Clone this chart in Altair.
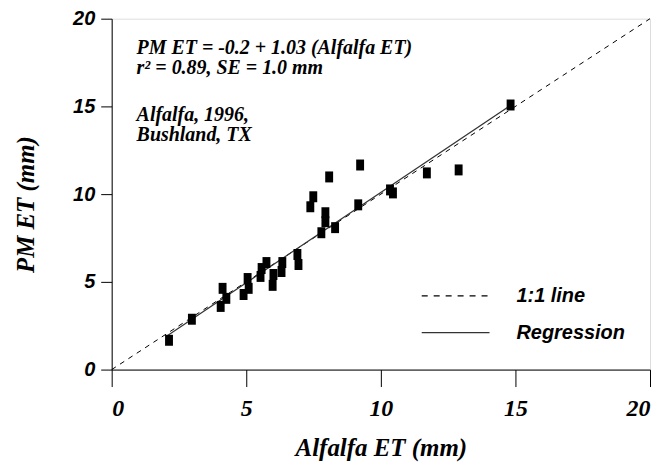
import altair as alt
import pandas as pd

# Observed points (Alfalfa ET, PM ET), mm
alfalfa_et = [2.13, 2.98, 4.05, 4.12, 4.26, 4.90, 5.05, 5.09, 5.53, 5.57, 5.75, 6.01, 5.98,
              6.34, 6.31, 6.90, 6.94, 7.38, 7.49, 7.79, 7.94, 7.94, 8.08, 8.30, 9.16, 9.23,
              10.34, 10.45, 11.71, 12.89, 14.82]
pm_et = [1.67, 2.87, 3.60, 4.63, 4.06, 4.28, 5.19, 4.63, 5.31, 5.76, 6.10, 5.42, 4.80,
         6.10, 5.59, 6.56, 5.99, 9.28, 9.85, 7.80, 8.94, 8.43, 10.98, 8.09, 9.39, 11.66,
         10.24, 10.07, 11.21, 11.38, 15.08]

one_to_one_x = [0, 20]
regression_x = [2.05, 14.9]
intercept = -0.2
slope = 1.03

axis_ticks = [0, 5, 10, 15, 20]

annotation_lines = ["PM ET = -0.2 + 1.03 (Alfalfa ET)", "r\u00b2 = 0.89, SE = 1.0 mm",
                    "Alfalfa, 1996,", "Bushland, TX"]
legend_labels = ["1:1 line", "Regression"]

pts = pd.DataFrame({"x": alfalfa_et, "y": pm_et})
l11 = pd.DataFrame({"x": one_to_one_x, "y": one_to_one_x})
reg = pd.DataFrame({"x": regression_x, "y": [intercept + slope * v for v in regression_x]})

SERIF = "Liberation Serif"
SANS = "Liberation Sans"

xscale = alt.Scale(domain=[0, 20], nice=False, zero=False)
yscale = alt.Scale(domain=[0, 20], nice=False, zero=False)

xaxis = alt.Axis(values=axis_ticks, title="Alfalfa ET (mm)", grid=False,
                 tickSize=17, tickColor="black", domainColor="black",
                 labelFont=SERIF, labelFontSize=24, labelFontStyle="italic",
                 labelFontWeight="bold", labelColor="black", labelPadding=10,
                 titleFont=SERIF, titleFontSize=25, titleFontStyle="italic",
                 titleFontWeight="bold", titleColor="black",
                 titleY=86, titleBaseline="alphabetic")
yaxis = alt.Axis(values=axis_ticks, title="PM ET (mm)", grid=False,
                 tickSize=11, tickColor="black", domainColor="black",
                 labelFont=SANS, labelFontSize=20, labelFontStyle="italic",
                 labelFontWeight="bold", labelColor="black", labelPadding=6,
                 titleFont=SERIF, titleFontSize=25, titleFontStyle="italic",
                 titleFontWeight="bold", titleColor="black",
                 titleX=-86, titleY=186, titleAngle=270, titleAlign="center",
                 titleBaseline="middle")

base_x = alt.X("x:Q", scale=xscale, axis=xaxis)
base_y = alt.Y("y:Q", scale=yscale, axis=yaxis)

line11 = alt.Chart(l11).mark_line(color="black", strokeWidth=1, strokeDash=[5, 5]).encode(
    x=base_x, y=base_y)
regline = alt.Chart(reg).mark_line(color="#333333", strokeWidth=1.2).encode(
    x=alt.X("x:Q", scale=xscale), y=alt.Y("y:Q", scale=yscale))
points = alt.Chart(pts).mark_point(
    shape="M-0.72,-1H0.72V1H-0.72Z", filled=True, color="black", opacity=1,
    size=121, strokeWidth=0).encode(
    x=alt.X("x:Q", scale=xscale), y=alt.Y("y:Q", scale=yscale))

ann_y = [35, 55, 103, 123]
texts = []
for t, yy in zip(annotation_lines, ann_y):
    texts.append(alt.Chart(pd.DataFrame({"t": [t]})).mark_text(
        align="left", baseline="alphabetic", font=SERIF, fontSize=20,
        fontStyle="italic", fontWeight="bold", color="black").encode(
        x=alt.value(25), y=alt.value(yy), text="t:N"))

leg = []
leg_y = [278, 315]
leg_dash = [[6, 6], [1, 0]]
leg_col = ["black", "#333333"]
for lab, yy, d, c in zip(legend_labels, leg_y, leg_dash, leg_col):
    leg.append(alt.Chart(pd.DataFrame({"t": [lab]})).mark_rule(
        color=c, strokeWidth=1.2, strokeDash=d).encode(
        x=alt.value(311), x2=alt.value(379), y=alt.value(yy)))
    leg.append(alt.Chart(pd.DataFrame({"t": [lab]})).mark_text(
        align="left", baseline="middle", font=SANS, fontSize=20,
        fontStyle="italic", fontWeight="bold", color="black").encode(
        x=alt.value(406), y=alt.value(yy), text="t:N"))

chart = alt.layer(line11, regline, points, *texts, *leg).properties(
    width=540, height=352,
    autosize=alt.AutoSizeParams(type="none"),
    padding={"left": 104, "top": 10, "right": 5, "bottom": 96},
).configure_view(stroke="black", strokeWidth=1).configure(background="white")

chart.save("out.html", embed_options={"renderer": "svg", "actions": False})
